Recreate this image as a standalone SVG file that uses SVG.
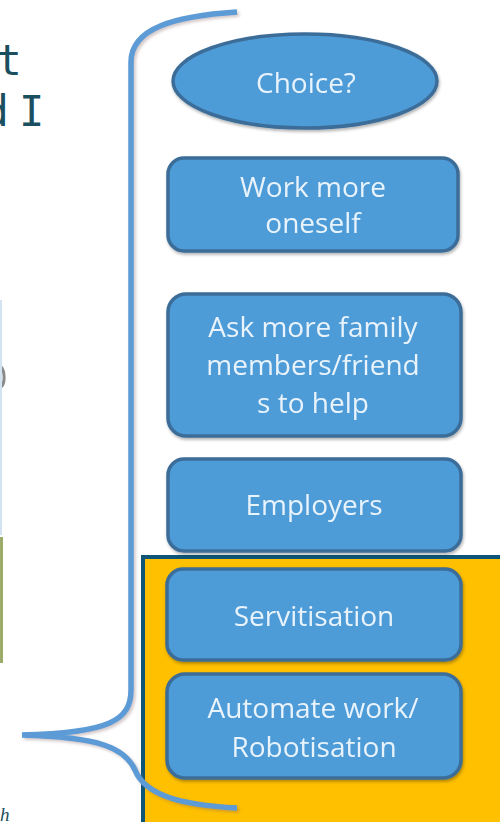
<svg xmlns="http://www.w3.org/2000/svg" width="500" height="822" viewBox="0 0 500 822">
<defs>
<filter id="sh" x="-10%" y="-10%" width="125%" height="130%">
<feDropShadow dx="1" dy="2" stdDeviation="1.5" flood-color="#000" flood-opacity="0.3"/>
</filter>
<filter id="bsh" x="-10%" y="-5%" width="130%" height="115%">
<feDropShadow dx="2" dy="2" stdDeviation="1.5" flood-color="#806060" flood-opacity="0.35"/>
</filter>
</defs>
<style>
.node{fill:#4e9bd7;stroke:#3b6d98;stroke-width:3.5}
.lbl{font-family:"Open Sans","Noto Sans",sans-serif;font-size:28px;fill:#e8f3fb;text-anchor:middle}
.frag{font-family:"DejaVu Sans Mono",monospace;font-size:42px;fill:#1b4f5f}
</style>
<rect width="500" height="822" fill="#ffffff"/>
<g id="fragments">
<text class="frag" x="-3.6" y="75">t</text>
<text class="frag" x="-16.4 5 18.9" y="126">d I</text>
<path d="M0,366 C5,370 6,384 0,388" fill="none" stroke="#8a8a8a" stroke-width="3"/>
<rect x="0" y="300" width="2" height="235" fill="#d3e3f1"/>
<rect x="0" y="537" width="3" height="126" fill="#9aab6a"/>
<text x="0" y="821" font-family="Liberation Serif,serif" font-style="italic" font-size="19" fill="#1b4f5f">h</text>
</g>
<g id="highlight">
<rect x="143" y="557" width="380" height="300" fill="#ffc000" stroke="#0e5577" stroke-width="4"/>
</g>
<g id="n-choice" filter="url(#sh)">
<ellipse class="node" cx="305" cy="81" rx="132" ry="47"/>
<text class="lbl" x="306" y="93" font-size="32">Choice?</text>
</g>
<g id="n-work" filter="url(#sh)">
<rect class="node" x="168" y="158" width="290" height="93" rx="16"/>
<text class="lbl" x="313" y="197">Work more</text>
<text class="lbl" x="313" y="233">oneself</text>
</g>
<g id="n-ask" filter="url(#sh)">
<rect class="node" x="168" y="294" width="293" height="142" rx="18"/>
<text class="lbl" x="313" y="337">Ask more family</text>
<text class="lbl" x="313" y="375">members/friend</text>
<text class="lbl" x="313" y="413">s to help</text>
</g>
<g id="n-employers" filter="url(#sh)">
<rect class="node" x="168" y="459" width="293" height="92" rx="16"/>
<text class="lbl" x="314" y="515">Employers</text>
</g>
<g id="n-servitisation" filter="url(#sh)">
<rect class="node" x="167" y="569" width="294" height="91" rx="16"/>
<text class="lbl" x="314" y="626">Servitisation</text>
</g>
<g id="n-automate" filter="url(#sh)">
<rect class="node" x="167" y="674" width="294" height="104" rx="18"/>
<text class="lbl" x="313" y="718">Automate work/</text>
<text class="lbl" x="314" y="757">Robotisation</text>
</g>
<g id="connectors" filter="url(#bsh)">
<path d="M237,12 C175,16 131,28 131,62 L131,690 C131,720 110,733 22,735 C100,737 125,748 135,770 C145,795 180,805 237,808" fill="none" stroke="#5b9bd5" stroke-width="5.5"/>
</g>
</svg>
